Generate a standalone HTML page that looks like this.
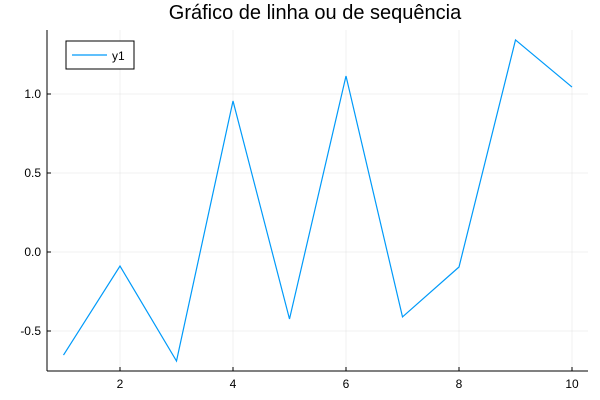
<!DOCTYPE html>
<html><head><meta charset="utf-8"><style>
html,body{margin:0;padding:0;background:#fff;}
svg{display:block;font-family:"Liberation Sans",sans-serif;}
</style></head><body>
<svg id="chart" width="600" height="400">
<text x="315" y="19" text-anchor="middle" font-size="20" fill="#000">Gráfico de linha ou de sequência</text>
<g id="grid"></g>
<g id="axes"></g>
<path id="series" fill="none" stroke="#009af9" stroke-width="1.2"/>
<g>
<rect x="66" y="41" width="68" height="28" fill="#fff" stroke="#000" stroke-width="1"/>
<line x1="72" y1="55" x2="107" y2="55" stroke="#009af9" stroke-width="1.2"/>
<text x="112" y="60" font-size="12" fill="#000">y1</text>
</g>
</svg>
<script>
const xValues=[1,2,3,4,5,6,7,8,9,10];
const yValues=[-0.652,-0.089,-0.69,0.956,-0.424,1.114,-0.411,-0.095,1.342,1.044];
const xTicks=[2,4,6,8,10];
const yTicks=[-0.5,0,0.5,1.0];
const yTickLabels=["-0.5","0.0","0.5","1.0"];
const L=47,R=588,T=30,B=371;
function sx(v){return 63.5+(v-1)*56.5;}
function sy(v){return 252-v*158;}
const NS="http://www.w3.org/2000/svg";
const grid=document.getElementById('grid'),axes=document.getElementById('axes');
function mk(tag,attrs,parent){const e=document.createElementNS(NS,tag);for(const k in attrs)e.setAttribute(k,attrs[k]);parent.appendChild(e);return e;}
xTicks.forEach(t=>{
 const g=mk('line',{x1:sx(t),x2:sx(t),y1:T,y2:B,stroke:'#000','stroke-opacity':0.1,'stroke-width':0.5},grid);
 
 
 const k=mk('line',{x1:sx(t),x2:sx(t),y1:B,y2:B-4,stroke:'#000','stroke-width':1},axes);
 
 
 const tx=mk('text',{x:sx(t),y:B+17,'text-anchor':'middle','font-size':12},axes);
 tx.textContent=String(t);
 
 
});
yTicks.forEach((t,i)=>{
 const g=mk('line',{x1:L,x2:R,y1:sy(t),y2:sy(t),stroke:'#000','stroke-opacity':0.1,'stroke-width':0.5},grid);
 
 
 const k=mk('line',{x1:L,x2:L+4,y1:sy(t),y2:sy(t),stroke:'#000','stroke-width':1},axes);
 
 
 const tx=mk('text',{x:L-6,y:sy(t)+4,'text-anchor':'end','font-size':12},axes);
 tx.textContent=yTickLabels[i];
 
 
});
const ax=mk('line',{x1:L,x2:R,y1:B,y2:B,stroke:'#000','stroke-width':1},axes);


const ay=mk('line',{x1:L,x2:L,y1:T,y2:B,stroke:'#000','stroke-width':1},axes);


document.getElementById('series').setAttribute('d',xValues.map((x,i)=>(i?'L':'M')+sx(x)+','+sy(yValues[i])).join(' '));
</script>
</body></html>
